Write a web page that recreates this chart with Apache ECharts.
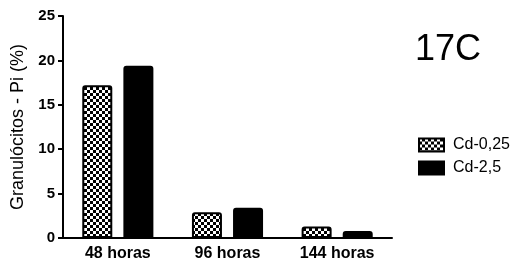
<!DOCTYPE html>
<html>
<head>
<meta charset="utf-8">
<script src="https://cdn.jsdelivr.net/npm/echarts@6/dist/echarts.min.js"></script>
<style>
  html, body { margin: 0; padding: 0; background: #fff; }
  #main { width: 520px; height: 266px; }
</style>
</head>
<body>
<div id="main"></div>
<script>
const categories = ["48 horas", "96 horas", "144 horas"];
const cd025 = [17.2, 2.9, 1.3];
const cd25 = [19.4, 3.4, 0.8];
const yTicks = [0, 5, 10, 15, 20, 25];

// padrão xadrez para a série Cd-0,25
const makeChecker = () => {
  const c = document.createElement("canvas");
  c.width = 6;
  c.height = 6;
  const ctx = c.getContext("2d");
  ctx.fillStyle = "#000";
  ctx.fillRect(0, 0, 6, 6);
  ctx.fillStyle = "#fff";
  ctx.fillRect(0, 0, 3, 3);
  ctx.fillRect(3, 3, 3, 3);
  return c;
};

const font = "Liberation Sans, Arial, sans-serif";
const myChart = echarts.init(document.getElementById("main"));
myChart.setOption({
  animation: false,
  title: {
    text: "17C",
    left: 410,
    top: 27,
    textStyle: { fontFamily: font, fontSize: 36, fontWeight: "normal", color: "#000" },
  },
  legend: {
    orient: "vertical",
    left: 413,
    top: 132,
    itemWidth: 25,
    itemHeight: 13,
    itemGap: 7,
    icon: "rect",
    textStyle: { fontFamily: font, fontSize: 16, color: "#000", padding: [0, 0, 0, 4] },
    data: ["Cd-0,25", "Cd-2,5"],
  },
  grid: { left: 63, top: 16, right: 128, bottom: 28 },
  xAxis: {
    type: "category",
    data: categories,
    axisLine: { lineStyle: { color: "#000", width: 2 } },
    axisTick: { alignWithLabel: true, length: 5, lineStyle: { color: "#000", width: 2 } },
    axisLabel: { fontFamily: font, fontSize: 16, fontWeight: "bold", color: "#000", margin: 8 },
  },
  yAxis: {
    type: "value",
    min: yTicks[0],
    max: yTicks[yTicks.length - 1],
    interval: 5,
    name: "Granulócitos - Pi (%)",
    nameLocation: "middle",
    nameGap: 30,
    nameTextStyle: { fontFamily: font, fontSize: 18, color: "#000" },
    splitLine: { show: false },
    axisLine: { show: true, lineStyle: { color: "#000", width: 2 } },
    axisTick: { show: true, length: 5, lineStyle: { color: "#000", width: 2 } },
    axisLabel: { fontFamily: font, fontSize: 15, fontWeight: "bold", color: "#000", margin: 8 },
  },
  series: [
    {
      name: "Cd-0,25",
      type: "bar",
      data: cd025,
      barWidth: 30,
      barGap: "37%",
      itemStyle: {
        color: { image: makeChecker(), repeat: "repeat" },
        borderColor: "#000",
        borderWidth: 2,
        borderRadius: [2, 2, 0, 0],
      },
    },
    {
      name: "Cd-2,5",
      type: "bar",
      data: cd25,
      barWidth: 30,
      itemStyle: { color: "#000", borderColor: "#000", borderWidth: 2, borderRadius: [2, 2, 0, 0] },
    },
  ],
});
</script>
</body>
</html>
